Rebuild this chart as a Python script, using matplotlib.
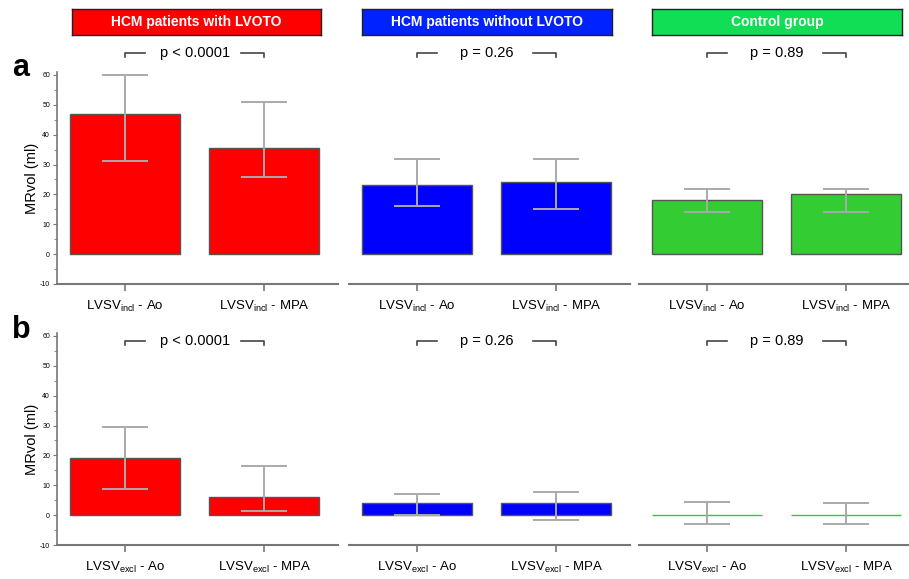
import matplotlib
matplotlib.use("Agg")

import matplotlib.pyplot as plt
import numpy as np

plt.rcParams['font.family'] = ['Liberation Sans', 'DejaVu Sans']
plt.rcParams['mathtext.default'] = 'regular'
plt.rcParams['axes.unicode_minus'] = False

grupos = ['HCM patients with LVOTO', 'HCM patients without LVOTO', 'Control group']
colores = ['#ff0000', '#0000ff', '#33cc33']
colores_caja = ['#ff0000', '#0022ff', '#11dd55']
p_valores = ['p < 0.0001', 'p = 0.26', 'p = 0.89']

# fila a: LVSV incl
medias_a = [[47.0, 35.5], [23.0, 24.0], [18.0, 20.0]]
err_sup_a = [[60.0, 51.0], [32.0, 32.0], [21.7, 21.9]]
err_inf_a = [[31.3, 25.9], [16.0, 15.2], [14.1, 14.1]]

# fila b: LVSV excl
medias_b = [[19.0, 6.0], [4.1, 4.1], [0.0, 0.0]]
err_sup_b = [[29.5, 16.5], [7.0, 7.7], [4.5, 4.0]]
err_inf_b = [[8.8, 1.4], [0.1, -1.7], [-3.1, -3.1]]

etiquetas_a = [r'LVSV$_{incl}$ - Ao', r'LVSV$_{incl}$ - MPA']
etiquetas_b = [r'LVSV$_{excl}$ - Ao', r'LVSV$_{excl}$ - MPA']

W, H = 909, 579
fig = plt.figure(figsize=(W / 100, H / 100), dpi=100)

def caja(x0, y0, x1, y1):
    return [x0 / W, 1 - y1 / H, (x1 - x0) / W, (y1 - y0) / H]

izquierdas = [57, 349, 639]
anchos = [281, 281, 270]
xmax = [1.53, 1.53, 1.45]

filas = [
    (72, 284, medias_a, err_sup_a, err_inf_a, etiquetas_a, 53, 'a', 68),
    (333, 545, medias_b, err_sup_b, err_inf_b, etiquetas_b, 341, 'b', 330),
]

for (ytop, ybot, medias, sup, inf, etiquetas, ybr, letra, yletra) in filas:
    for i in range(3):
        ax = fig.add_axes(caja(izquierdas[i], ytop, izquierdas[i] + anchos[i], ybot))
        x = np.arange(2)
        m = np.array(medias[i])
        bordes = ['#555555' if v != 0 else colores[i] for v in m]
        ax.bar(x, m, width=0.79, color=colores[i], edgecolor=bordes, linewidth=1.0, zorder=2)
        yerr = [m - np.array(inf[i]), np.array(sup[i]) - m]
        ax.errorbar(x, m, yerr=yerr, fmt='none', ecolor='#aaaaaa', elinewidth=1.4,
                    capsize=16.5, capthick=1.4, zorder=3)
        ax.set_xlim(-0.49, xmax[i])
        ax.set_ylim(-10, 61)
        for s in ['top', 'right']:
            ax.spines[s].set_visible(False)
        ax.spines['bottom'].set_color('#777777')
        ax.spines['bottom'].set_linewidth(1.5)
        ax.set_xticks(x)
        ax.set_xticklabels(etiquetas, fontsize=9.5)
        ax.tick_params(axis='x', length=5, width=1.2, color='#777777', pad=6)
        if i == 0:
            ax.spines['left'].set_color('#777777')
            ax.spines['left'].set_linewidth(1.2)
            ax.set_yticks(np.arange(-10, 61, 10))
            ax.set_yticks(np.arange(-10, 61, 5), minor=True)
            ax.tick_params(axis='y', labelsize=5, length=3, color='#777777', pad=2)
            ax.tick_params(axis='y', which='minor', length=2, color='#777777')
            ax.set_ylabel('MRvol (ml)', fontsize=10.5, labelpad=1)
        else:
            ax.spines['left'].set_visible(False)
            ax.set_yticks([])
        # corchete de p-valor
        tr = ax.get_xaxis_transform()
        yb = 1 - (ybr - ytop) / (ybot - ytop)
        yb2 = yb - 4 / (ybot - ytop)
        kw = dict(transform=tr, color='#444444', lw=1.2, clip_on=False)
        ax.plot([0, 0, 0.14], [yb2, yb, yb], **kw)
        ax.plot([0.83, 1, 1], [yb, yb, yb2], **kw)
        ax.text(0.5, yb, p_valores[i], transform=tr, ha='center', va='center', fontsize=10.5)
    fig.text(12 / W, 1 - yletra / H, letra, fontsize=22, fontweight='bold', va='center')

# cajas de encabezado
cajas_x = [(72, 321), (362, 612), (652, 902)]
for i in range(3):
    axh = fig.add_axes(caja(cajas_x[i][0], 9, cajas_x[i][1], 35))
    axh.set_facecolor(colores_caja[i])
    axh.set_xticks([])
    axh.set_yticks([])
    for s in axh.spines.values():
        s.set_color('#222222')
        s.set_linewidth(1.0)
    axh.text(0.5, 0.5, grupos[i], ha='center', va='center', color='white',
             fontsize=10, fontweight='bold', transform=axh.transAxes)

plt.savefig('out.png', dpi=100)
